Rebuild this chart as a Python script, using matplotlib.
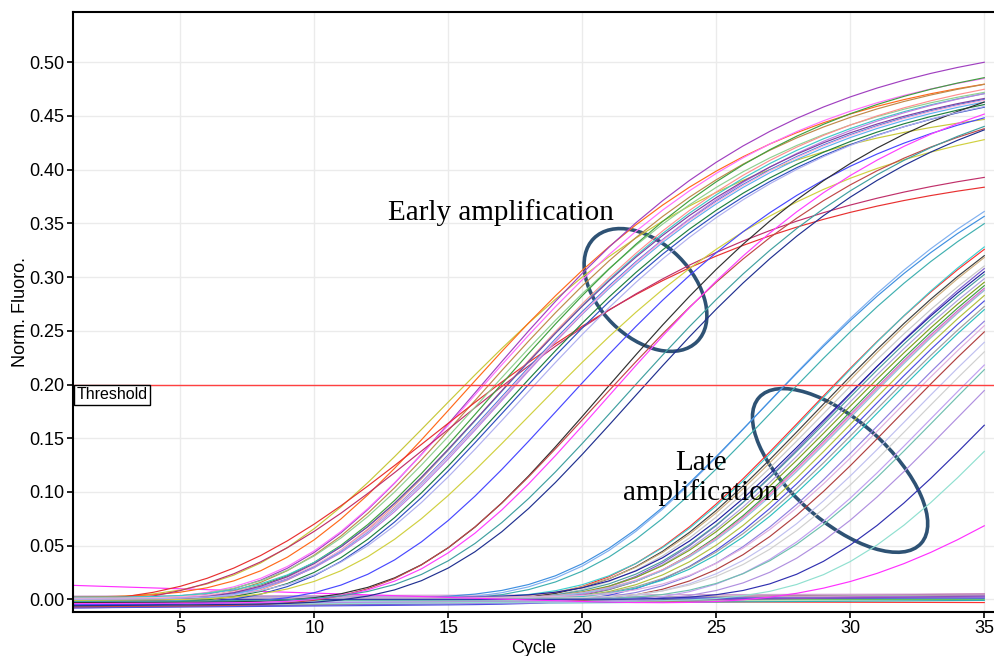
import numpy as np
import matplotlib
matplotlib.use("Agg")
import matplotlib.pyplot as plt
from matplotlib.patches import Ellipse
from matplotlib.transforms import IdentityTransform

# Run settings
CYCLES = np.arange(1, 36)
THRESHOLD = 0.20

# Early-amplifying wells: threshold cycle, plateau, growth rate, baseline at cycle 1, baseline drift/cycle
early_ct = [15.8, 16.0, 16.3, 16.4, 16.5, 16.8, 17.0, 16.8, 17.0, 17.1, 17.3, 17.4, 17.5,
            17.6, 17.8, 17.5, 17.9, 17.2, 19.2, 19.9, 21.0, 21.1, 21.3, 22.0, 22.3, 18.3]
early_fmax = [0.46, 0.50, 0.525, 0.51, 0.505, 0.41, 0.42, 0.50, 0.515, 0.505, 0.50, 0.495, 0.49,
              0.50, 0.49, 0.495, 0.49, 0.495, 0.46, 0.49, 0.52, 0.49, 0.51, 0.50, 0.50, 0.49]
early_rate = [0.15, 0.15, 0.15, 0.15, 0.15, 0.13, 0.13, 0.15, 0.15, 0.15, 0.15, 0.15, 0.15,
              0.15, 0.15, 0.15, 0.15, 0.15, 0.15, 0.15, 0.15, 0.15, 0.15, 0.15, 0.15, 0.15]
early_base = [0.001, 0.002, -0.002, 0.000, -0.004, -0.003, -0.005, 0.001, -0.001, -0.006, 0.002, -0.002, -0.003,
              0.000, -0.004, 0.001, -0.006, -0.002, -0.001, -0.005, -0.003, -0.007, -0.004, -0.002, -0.006, 0.000]
early_drift = [0.0002, 0.0001, 0.0002, 0.0001, 0.0002, 0.0001, 0.0002, 0.0000, 0.0001, 0.0002, 0.0000, 0.0001, 0.0002,
               0.0001, 0.0002, 0.0000, 0.0002, 0.0001, 0.0001, 0.0002, 0.0001, 0.0002, 0.0001, 0.0001, 0.0002, 0.0001]
early_colors = ['#c8c83a', '#ff6a1a', '#a040c0', '#ff70ff', '#c08a4a', '#e83030', '#c0306a', '#90d090',
                '#40a040', '#ff9090', '#40c8c8', '#4080e0', '#60b0f0', '#c080e0', '#208040', '#ffb0d8',
                '#3050c0', '#8040a0', '#d0d040', '#4848ff', '#303030', '#c04848', '#ff40ff', '#40a0a0',
                '#203090', '#b0b0f0']

# Late-amplifying wells
late_ct = [27.6, 27.7, 28.1, 29.4, 29.5, 29.7, 29.9, 30.1, 30.3, 30.4, 30.5, 30.6, 30.8, 31.0, 31.1, 31.2,
           31.3, 31.5, 31.6, 31.9, 32.1, 32.5, 32.8, 33.0, 33.4, 33.8, 34.2, 34.5, 35.2, 36.5, 37.5, 42.1]
late_fmax = [0.48, 0.47, 0.47, 0.47, 0.48, 0.47, 0.47, 0.46, 0.47, 0.46, 0.46, 0.46, 0.46, 0.46, 0.46, 0.46,
             0.46, 0.46, 0.46, 0.46, 0.46, 0.46, 0.46, 0.46, 0.46, 0.46, 0.46, 0.46, 0.46, 0.46, 0.46, 0.47]
late_rate = [0.15, 0.15, 0.15, 0.15, 0.15, 0.15, 0.15, 0.15, 0.15, 0.15, 0.15, 0.15, 0.15, 0.15, 0.15, 0.15,
             0.15, 0.15, 0.15, 0.15, 0.15, 0.15, 0.15, 0.15, 0.15, 0.15, 0.15, 0.15, 0.15, 0.15, 0.15, 0.10]
late_base = [-0.002, 0.000, -0.004, -0.006, 0.001, -0.003, -0.001, -0.005, -0.007, 0.002, -0.002, -0.004,
             0.000, -0.006, -0.003, 0.001, -0.001, -0.005, -0.008, 0.000, -0.002, -0.004, 0.002, -0.006,
             -0.003, 0.001, -0.005, -0.002, -0.004, 0.000, -0.006, 0.013]
late_drift = [0.0001, 0.0001, 0.0002, 0.0002, 0.0000, 0.0001, 0.0001, 0.0002, 0.0002, 0.0000, 0.0001, 0.0001,
              0.0000, 0.0002, 0.0001, 0.0000, 0.0001, 0.0002, 0.0002, 0.0000, 0.0001, 0.0001, 0.0000, 0.0002,
              0.0001, 0.0000, 0.0001, 0.0001, 0.0001, 0.0000, 0.0002, -0.0008]
late_colors = ['#80b0f0', '#4090e0', '#40b0b0', '#ff3030', '#40d0d0', '#404040', '#d0b080', '#c8c8c8',
               '#8060d0', '#2020a0', '#50a0a0', '#b0a0e0', '#80a020', '#40a040', '#c070d0', '#ff90c0',
               '#90c0e0', '#b0c040', '#5050e0', '#a0a0a0', '#30c0c0', '#9080e0', '#e0b0e0', '#b04040',
               '#c0c0f0', '#d0d0d0', '#c0a0f0', '#70c0b0', '#b090e0', '#3030b0', '#90e0d0', '#ff30ff']

# Wells with no amplification: level at cycle 1 and at cycle 35
flat_start = [-0.007, -0.005, -0.004, -0.003, -0.002, -0.001, 0.000, 0.001, 0.002, -0.006, -0.008, 0.003]
flat_end = [0.004, 0.003, 0.002, 0.005, 0.000, -0.003, 0.004, 0.002, 0.001, -0.001, 0.003, 0.005]
flat_colors = ['#c040c0', '#8080ff', '#3030c0', '#a02070', '#60c060', '#ff3030', '#b0b0b0',
               '#e080e0', '#4060d0', '#30b0b0', '#9050c0', '#d0a0d0']


def amplification(ct, fmax, rate, base, drift):
    """Gompertz-shaped amplification curve that passes the threshold at ct."""
    growth = fmax * np.exp(-np.log(fmax / THRESHOLD) * np.exp(-rate * (CYCLES - ct)))
    return growth + base + drift * (CYCLES - 1)


fig = plt.figure(figsize=(9.95, 6.56), dpi=100)
ax = fig.add_axes([73 / 995, 44 / 656, 922 / 995, 600 / 656])

ax.set_xlim(1, 35.4)
ax.set_ylim(-0.0118, 0.5468)

# Grid
ax.set_xticks([5, 10, 15, 20, 25, 30, 35])
ax.set_yticks(np.arange(0, 0.501, 0.05))
ax.grid(True, color='#ebebeb', linewidth=1.0)
ax.set_axisbelow(True)

lw = 0.85
for s, e, c in zip(flat_start, flat_end, flat_colors):
    ax.plot(CYCLES, np.linspace(s, e, len(CYCLES)), color=c, linewidth=lw)

for ct, fm, r, b, d, c in zip(late_ct, late_fmax, late_rate, late_base, late_drift, late_colors):
    ax.plot(CYCLES, amplification(ct, fm, r, b, d), color=c, linewidth=lw)

for ct, fm, r, b, d, c in zip(early_ct, early_fmax, early_rate, early_base, early_drift, early_colors):
    ax.plot(CYCLES, amplification(ct, fm, r, b, d), color=c, linewidth=lw)

# Threshold line and its tag
ax.axhline(THRESHOLD, color='#ff4040', linewidth=1.0)
ax.text(1.12, THRESHOLD - 0.0025, 'Threshold', fontsize=11.5, family='Liberation Sans',
        ha='left', va='top',
        bbox=dict(boxstyle='square,pad=0.15', facecolor='white', edgecolor='black', linewidth=1.0))

# Axes styling
for side in ('left', 'bottom', 'top'):
    ax.spines[side].set_linewidth(1.5)
    ax.spines[side].set_color('black')
ax.spines['right'].set_visible(False)
ax.tick_params(axis='both', direction='out', length=4, width=1.2, labelsize=13, pad=2)
ax.yaxis.set_major_formatter(matplotlib.ticker.FormatStrFormatter('%.2f'))
for lab in ax.get_xticklabels() + ax.get_yticklabels():
    lab.set_family('Liberation Sans')

ax.set_xlabel('Cycle', fontsize=13, family='Liberation Sans', labelpad=2)
ax.set_ylabel('Norm. Fluoro.', fontsize=13, family='Liberation Sans', labelpad=0)

# Annotations
ax.text(16.97, 0.360, 'Early amplification', fontsize=21, family='Liberation Serif',
        ha='center', va='center')
ax.text(24.43, 0.113, 'Late\namplification', fontsize=21, family='Liberation Serif',
        ha='center', va='center', linespacing=1.12)

ring_color = '#2e5274'
for (cx, cy), w, h, ang in [((22.36, 0.288), 146, 94, -45), ((29.62, 0.120), 218, 100, -42)]:
    px, py = ax.transData.transform((cx, cy))
    ax.add_patch(Ellipse((px, py), w, h, angle=ang, fill=False, edgecolor=ring_color,
                         linewidth=2.6, transform=IdentityTransform(), clip_on=False))

fig.savefig('out.png', dpi=100)
